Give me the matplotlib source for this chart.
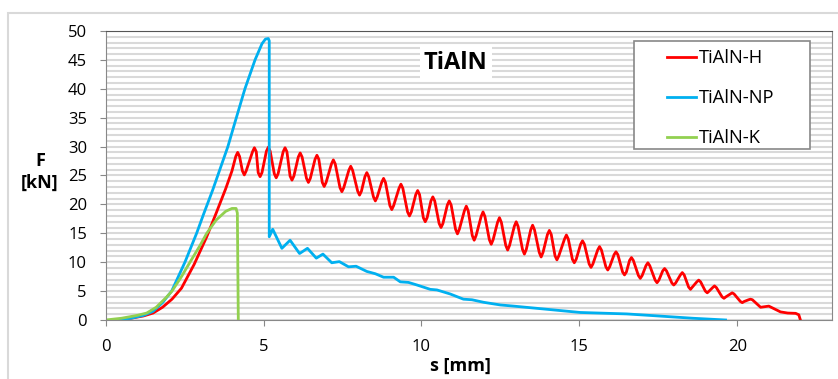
import matplotlib.pyplot as plt
from matplotlib.patches import Rectangle
from matplotlib.ticker import MultipleLocator

# TiAlN-H (red): rise, then each peak / trough with its shoulders
h_s = [0.3, 0.8, 1.2, 1.5, 1.8, 2.1, 2.4, 2.8, 3.2, 3.5, 3.8, 4.0, 4.12,
       4.18, 4.24, 4.33, 4.39, 4.45, 4.65, 4.71, 4.77, 4.83, 4.89, 4.95,
       5.09, 5.15, 5.21, 5.34, 5.40, 5.46, 5.62, 5.68, 5.74, 5.84, 5.90, 5.96,
       6.10, 6.16, 6.22, 6.36, 6.42, 6.48, 6.63, 6.69, 6.75, 6.86, 6.92, 6.98,
       7.15, 7.21, 7.27, 7.42, 7.48, 7.54, 7.70, 7.76, 7.82, 7.98, 8.04, 8.10,
       8.21, 8.27, 8.33, 8.48, 8.54, 8.60, 8.74, 8.80, 8.86, 9.00, 9.06, 9.12,
       9.29, 9.35, 9.41, 9.56, 9.62, 9.68, 9.82, 9.88, 9.94, 10.06, 10.12, 10.18,
       10.30, 10.36, 10.42, 10.56, 10.62, 10.68, 10.82, 10.88, 10.94,
       11.08, 11.14, 11.20, 11.36, 11.42, 11.48, 11.61, 11.67, 11.73,
       11.89, 11.95, 12.01, 12.15, 12.21, 12.27, 12.41, 12.47, 12.53,
       12.67, 12.73, 12.79, 12.94, 13.00, 13.06, 13.20, 13.26, 13.32,
       13.46, 13.52, 13.58, 13.73, 13.79, 13.85, 13.99, 14.05, 14.11,
       14.23, 14.29, 14.35, 14.53, 14.59, 14.65, 14.78, 14.84, 14.90,
       15.04, 15.10, 15.16, 15.31, 15.37, 15.43, 15.58, 15.64, 15.70,
       15.84, 15.90, 15.96, 16.10, 16.16, 16.22, 16.37, 16.43, 16.49,
       16.59, 16.65, 16.71, 16.87, 16.93, 16.99, 17.11, 17.17, 17.23,
       17.40, 17.46, 17.52, 17.64, 17.70, 17.76, 17.93, 17.99, 18.05,
       18.20, 18.26, 18.32, 18.46, 18.52, 18.58, 18.72, 18.78, 18.84,
       18.99, 19.05, 19.11, 19.22, 19.28, 19.34, 19.52, 19.58, 19.64,
       19.78, 19.84, 19.90, 20.10, 20.16, 20.22, 20.36, 20.42, 20.48,
       20.74, 21.0, 21.37, 21.6, 21.85, 21.95, 22.0]
h_F = [0, 0.3, 0.7, 1.2, 2.2, 3.6, 5.5, 9.6, 14.4, 18.5, 22.7, 25.8, 28.3,
       29.0, 28.3, 25.8, 25.1, 25.8, 29.1, 29.8, 29.1, 25.5, 24.8, 25.5,
       29.2, 29.9, 29.2, 25.3, 24.6, 25.3, 29.1, 29.8, 29.1, 24.9, 24.2, 24.9,
       28.2, 28.9, 28.2, 24.5, 23.8, 24.5, 27.8, 28.5, 27.8, 23.8, 23.1, 23.8,
       27.0, 27.7, 27.0, 22.9, 22.2, 22.9, 25.9, 26.6, 25.9, 22.3, 21.6, 22.3,
       24.8, 25.5, 24.8, 21.3, 20.6, 21.3, 23.8, 24.5, 23.8, 19.8, 19.1, 19.8,
       22.8, 23.5, 22.8, 18.7, 18.0, 18.7, 21.7, 22.4, 21.7, 17.7, 17.0, 17.7,
       20.6, 21.3, 20.6, 16.7, 16.0, 16.7, 19.9, 20.6, 19.9,
       15.7, 14.9, 15.7, 18.9, 19.7, 18.9, 14.6, 13.8, 14.6,
       17.9, 18.7, 17.9, 13.9, 13.1, 13.9, 16.9, 17.7, 16.9,
       12.9, 12.1, 12.9, 16.2, 17.0, 16.2, 12.2, 11.4, 12.2,
       15.6, 16.4, 15.6, 11.7, 10.9, 11.7, 14.8, 15.5, 14.8,
       11.1, 10.4, 11.1, 14.0, 14.7, 14.0, 10.5, 9.9, 10.5,
       13.1, 13.7, 13.1, 9.7, 9.1, 9.7, 12.1, 12.7, 12.1,
       9.2, 8.65, 9.2, 11.3, 11.8, 11.3, 8.3, 7.8, 8.3,
       10.3, 10.8, 10.3, 7.7, 7.2, 7.7, 9.4, 9.9, 9.4,
       6.9, 6.45, 6.9, 8.5, 8.9, 8.5, 6.4, 6.05, 6.4,
       7.8, 8.2, 7.8, 5.7, 5.3, 5.7, 6.6, 6.9, 6.6,
       5.0, 4.7, 5.0, 5.6, 5.9, 5.6, 4.0, 3.75, 4.0,
       4.5, 4.7, 4.5, 3.2, 3.0, 3.2, 3.5, 3.6, 3.5,
       2.2, 2.4, 1.4, 1.2, 1.15, 0.9, 0]

# TiAlN-NP (blue)
np_s = [0.3, 0.8, 1.2, 1.5, 1.8, 2.09, 2.3, 2.51, 2.88, 3.1, 3.39, 3.87, 4.10,
        4.41, 4.73, 4.95, 5.06, 5.15, 5.18, 5.18, 5.29, 5.58, 5.84, 6.14, 6.39,
        6.67, 6.88, 7.16, 7.40, 7.69, 7.93, 8.27, 8.54, 8.80, 9.12, 9.33, 9.59,
        9.86, 10.28, 10.49, 10.91, 11.33, 11.6, 11.97, 12.5, 12.92, 13.98,
        15.03, 16.5, 17.35, 18.6, 19.63]
np_F = [0, 0.3, 0.8, 1.5, 3.0, 5.0, 7.5, 10.0, 15.0, 18.3, 22.5, 30.0, 34.3,
        40.0, 45.0, 47.8, 48.6, 48.7, 48.3, 14.4, 15.7, 12.4, 13.8, 11.5, 12.4,
        10.7, 11.4, 9.9, 10.1, 9.2, 9.3, 8.4, 8.0, 7.4, 7.4, 6.6, 6.5,
        6.05, 5.3, 5.2, 4.5, 3.6, 3.5, 3.06, 2.6, 2.4, 1.85,
        1.3, 1.05, 0.75, 0.3, 0]

# TiAlN-K (green)
k_s = [0, 0.5, 1.0, 1.3, 1.6, 1.9, 2.1, 2.4, 2.67, 3.0, 3.2, 3.5, 3.8, 4.0,
       4.13, 4.17, 4.2]
k_F = [0, 0.3, 0.8, 1.2, 2.2, 3.8, 5.0, 7.5, 10.0, 13.0, 15.0, 17.3, 18.8,
       19.3, 19.3, 18.5, 0]

plt.rcParams['font.family'] = ['Open Sans', 'DejaVu Sans']

fig = plt.figure(figsize=(8.38, 3.79), dpi=100)
ax = fig.add_axes([0.1261, 0.1557, 0.8667, 0.7625])

# outer chart border
fig.patches.append(Rectangle((8 / 838, -0.1), 1.2, 1 - 13 / 379 + 0.1,
                             transform=fig.transFigure, fill=False,
                             edgecolor='#d9d9d9', lw=1.5))

ax.plot(h_s, h_F, color='#ff0000', lw=2, label='TiAlN-H', solid_joinstyle='round')
ax.plot(np_s, np_F, color='#00b0f0', lw=2, label='TiAlN-NP', solid_joinstyle='round')
ax.plot(k_s, k_F, color='#92d050', lw=2, label='TiAlN-K', solid_joinstyle='round')

ax.set_xlim(0, 23)
ax.set_ylim(0, 50)
ax.xaxis.set_major_locator(MultipleLocator(5))
ax.yaxis.set_major_locator(MultipleLocator(5))
ax.yaxis.set_minor_locator(MultipleLocator(1))
ax.grid(axis='y', which='both', color='#d9d9d9', lw=1.5)
ax.set_axisbelow(True)
ax.tick_params(axis='both', which='major', length=4.5, color='#888888',
               labelsize=12, pad=9)
ax.tick_params(axis='y', which='minor', length=0)
for sp in ax.spines.values():
    sp.set_color('#888888')
ax.spines['top'].set_color('#555555')

ax.text(0.482, 0.891, 'TiAlN', transform=ax.transAxes, ha='center', va='center',
        fontsize=17, fontweight='bold',
        bbox=dict(facecolor='white', edgecolor='none', pad=3))

ax.add_patch(Rectangle((0.7274, 0.5907), 0.2423, 0.3747, transform=ax.transAxes,
                       facecolor='white', edgecolor='#888888', lw=1.2, zorder=4.5))
ax.legend(loc='upper left', bbox_to_anchor=(0.7735, 0.937), frameon=False,
          fontsize=13.2, handlelength=1.55, handletextpad=0.15, labelspacing=1.2,
          borderaxespad=0, borderpad=0)

fig.text(40 / 838, 1 - 172 / 379, 'F\n[kN]', ha='center', va='center',
         fontsize=13, fontweight='bold', linespacing=1.3)
fig.text(460 / 838, 1 - 366 / 379, 's [mm]', ha='center', va='center',
         fontsize=13, fontweight='bold')

plt.savefig('out.png', dpi=100)
